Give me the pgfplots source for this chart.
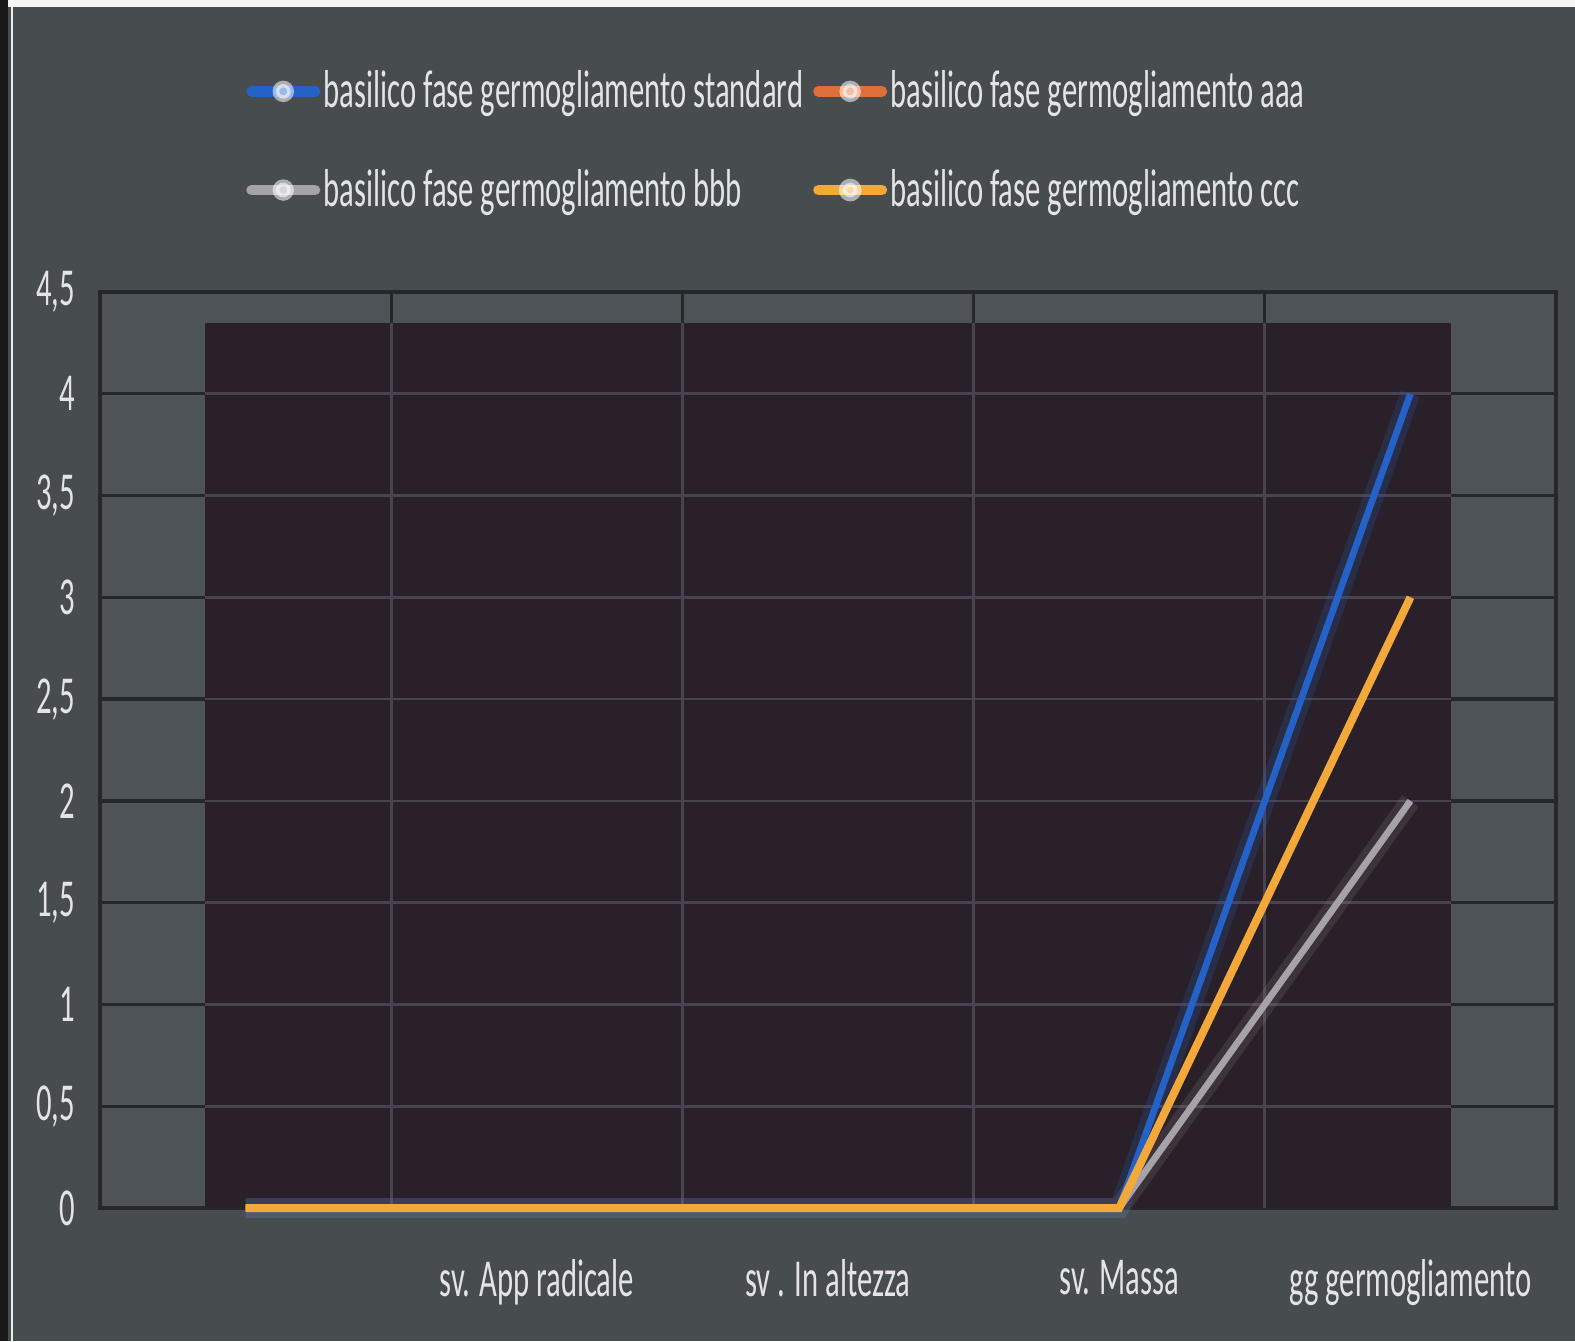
\documentclass[border=0pt]{standalone}
\usepackage{pgfplots}
\pgfplotsset{compat=1.18}
\usepackage{fontspec}
\setmainfont{Carlito}[FakeStretch=0.575]
\definecolor{bg}{HTML}{474C4E}
\definecolor{plotbg}{HTML}{4D5356}
\definecolor{inner}{HTML}{2A2029}
\definecolor{gridd}{HTML}{24282A}
\definecolor{gridl}{HTML}{4B4250}
\definecolor{txt}{HTML}{E4E4E4}
\definecolor{cstd}{HTML}{2462C8}
\definecolor{caaa}{HTML}{E0703A}
\definecolor{cbbb}{HTML}{A5A3A8}
\definecolor{cccc}{HTML}{F2A93A}
\begin{document}
\begin{tikzpicture}
\path[use as bounding box] (0,0) rectangle (472.5pt,402.3pt);
\fill[bg] (0,0) rectangle (472.5pt,402.3pt);
\fill[white!92!gray] (0,400.2pt) rectangle (472.5pt,402.3pt);
\fill[black!90] (0,0) rectangle (2.4pt,402.3pt);
\fill[white!85!gray] (3.3pt,0) rectangle (4.0pt,400.2pt);
\begin{axis}[
  at={(30pt,39.9pt)}, anchor=south west,
  scale only axis, width=436.8pt, height=274.8pt,
  xmin=-0.5, xmax=4.5, ymin=0, ymax=4.5,
  clip=false,
  xtick={0,1,2,3,4},
  xticklabels={,sv. App radicale,sv . In altezza,sv. Massa,gg germogliamento},
  minor xtick={0.5,1.5,2.5,3.5},
  ytick={0,0.5,1,1.5,2,2.5,3,3.5,4,4.5},
  /pgf/number format/assume math mode=true,
  /pgf/number format/use comma,
  axis background/.style={fill=plotbg},
  axis line style={gridd, line width=1.2pt},
  ymajorgrids, xminorgrids,
  major grid style={gridd, line width=1pt},
  minor grid style={gridd, line width=1pt},
  major tick length=0pt, minor tick length=0pt,
  tick label style={font=\fontsize{16}{18}\selectfont, text=txt},
  xticklabel style={yshift=-12pt},
  yticklabel style={xshift=-4pt},
  legend columns=2,
  legend cell align=left,
  legend style={at={(0.1,1.25)}, anchor=north west, draw=none, fill=none,
    font=\fontsize{16}{18}\selectfont, text=txt, inner sep=0pt,
    nodes={inner xsep=1pt},
    row sep=13pt, /tikz/every even column/.append style={column sep=2pt}},
  legend image code/.code={\draw[#1, line width=3.2pt, line cap=round] (0pt,0pt) -- (19pt,0pt);
    \fill[white, opacity=0.55] (9.5pt,0pt) circle (2.2pt);},
]
\fill[inner] (axis cs:-0.138,0) rectangle (axis cs:4.138,4.35);
\draw[gridl, line width=0.8pt] (axis cs:-0.138,0.5) -- (axis cs:4.138,0.5);
\draw[gridl, line width=0.8pt] (axis cs:-0.138,1) -- (axis cs:4.138,1);
\draw[gridl, line width=0.8pt] (axis cs:-0.138,1.5) -- (axis cs:4.138,1.5);
\draw[gridl, line width=0.8pt] (axis cs:-0.138,2) -- (axis cs:4.138,2);
\draw[gridl, line width=0.8pt] (axis cs:-0.138,2.5) -- (axis cs:4.138,2.5);
\draw[gridl, line width=0.8pt] (axis cs:-0.138,3) -- (axis cs:4.138,3);
\draw[gridl, line width=0.8pt] (axis cs:-0.138,3.5) -- (axis cs:4.138,3.5);
\draw[gridl, line width=0.8pt] (axis cs:-0.138,4) -- (axis cs:4.138,4);
\draw[gridl, line width=0.8pt] (axis cs:0.5,0) -- (axis cs:0.5,4.35);
\draw[gridl, line width=0.8pt] (axis cs:1.5,0) -- (axis cs:1.5,4.35);
\draw[gridl, line width=0.8pt] (axis cs:2.5,0) -- (axis cs:2.5,4.35);
\draw[gridl, line width=0.8pt] (axis cs:3.5,0) -- (axis cs:3.5,4.35);
\addplot[cstd, line width=6pt, opacity=0.2, forget plot] coordinates {(0,0) (1,0) (2,0) (3,0) (4,4)};
\addplot[cstd, line width=2pt] coordinates {(0,0) (1,0) (2,0) (3,0) (4,4)};
\addlegendentry{basilico fase germogliamento standard}
\addplot[caaa, line width=2pt] coordinates {(0,0) (1,0) (2,0) (3,0) (4,3)};
\addlegendentry{basilico fase germogliamento aaa}
\addplot[cbbb, line width=6pt, opacity=0.15, forget plot] coordinates {(0,0) (1,0) (2,0) (3,0) (4,2)};
\addplot[cbbb, line width=2pt] coordinates {(0,0) (1,0) (2,0) (3,0) (4,2)};
\addlegendentry{basilico fase germogliamento bbb}
\addplot[cccc, line width=2.4pt] coordinates {(0,0) (1,0) (2,0) (3,0) (4,3)};
\addlegendentry{basilico fase germogliamento ccc}
\end{axis}
\end{tikzpicture}
\end{document}
